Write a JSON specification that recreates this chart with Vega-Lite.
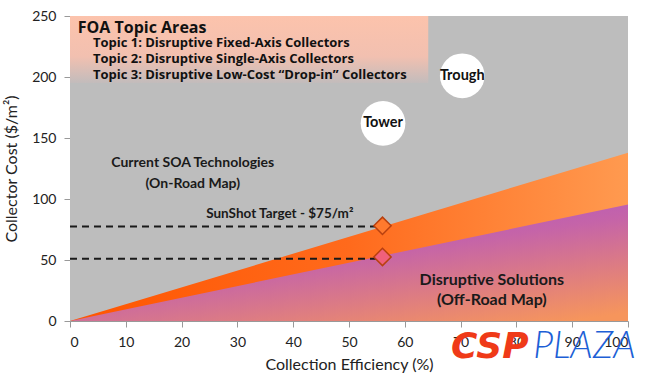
{
  "$schema": "https://vega.github.io/schema/vega-lite/v6.json",
  "width": 558,
  "height": 305,
  "autosize": {"type": "none"},
  "padding": {"left": 70, "top": 16, "right": 22, "bottom": 54},
  "background": "#ffffff",
  "config": {
    "view": {"stroke": null},
    "font": "Lato",
    "axis": {
      "grid": false,
      "labelFont": "Lato",
      "labelFontSize": 14,
      "labelColor": "#222222",
      "titleFont": "Lato",
      "titleFontSize": 16,
      "titleFontWeight": "normal",
      "titleColor": "#222222",
      "domainColor": "#999999",
      "tickColor": "#999999",
      "tickSize": 6
    }
  },
  "datasets": {
    "bg": [{"x0": 0, "x1": 100, "y0": 0, "y1": 250}],
    "box": [{"x0": 0, "x1": 64.2, "y0": 195, "y1": 250}],
    "upper": [{"eff": 0, "cost": 0}, {"eff": 100, "cost": 138}],
    "lower": [{"eff": 0, "cost": 0}, {"eff": 100, "cost": 95.5}],
    "dash": [{"x0": 0, "x1": 56, "y": 77.5}, {"x0": 0, "x1": 56, "y": 51}],
    "diam": [{"eff": 56, "cost": 78, "kind": "target"}, {"eff": 56, "cost": 52.5, "kind": "disruptive"}],
    "circ": [{"eff": 56.1, "cost": 162, "label": "Tower"}, {"eff": 70.3, "cost": 201, "label": "Trough"}],
    "legendTitle": [{"eff": 1.4, "cost": 240, "label": "FOA Topic Areas"}],
    "legendItems": [
      {"eff": 4.1, "cost": 228, "label": "Topic 1: Disruptive  Fixed-Axis Collectors"},
      {"eff": 4.1, "cost": 214.5, "label": "Topic 2: Disruptive  Single-Axis Collectors"},
      {"eff": 4.1, "cost": 201.5, "label": "Topic 3: Disruptive  Low-Cost \u201cDrop-in\u201d Collectors"}
    ],
    "notes": [
      {"eff": 22, "cost": 129.5, "label": "Current SOA Technologies", "size": 14},
      {"eff": 22, "cost": 112, "label": "(On-Road Map)", "size": 14},
      {"eff": 37.6, "cost": 87.5, "label": "SunShot Target - $75/m\u00b2", "size": 13.5},
      {"eff": 75.6, "cost": 34, "label": "Disruptive Solutions", "size": 16},
      {"eff": 75.6, "cost": 17, "label": "(Off-Road Map)", "size": 16}
    ],
    "wm1": [{"eff": 68.3, "cost": -21, "label": "CSP"}],
    "wm2": [{"eff": 83.0, "cost": -21, "label": "PLAZA"}]
  },
  "layer": [
    {
      "data": {"name": "bg"},
      "mark": {"type": "rect", "fill": "#bdbdbd"},
      "encoding": {
        "x": {"field": "x0", "type": "quantitative", "scale": {"domain": [0, 100], "nice": false}, "axis": {"title": "Collection Efficiency (%)", "values": [0,10,20,30,40,50,60,70,80,90,100], "labelPadding": 8, "titlePadding": 7}},
        "x2": {"field": "x1"},
        "y": {"field": "y0", "type": "quantitative", "scale": {"domain": [0, 250], "nice": false}, "axis": {"title": "Collector Cost ($/m\u00b2)", "values": [0,50,100,150,200,250], "labelPadding": 8, "titlePadding": 12}},
        "y2": {"field": "y1"}
      }
    },
    {
      "data": {"name": "box"},
      "mark": {"type": "rect", "fill": {"gradient": "linear", "x1": 0, "y1": 0, "x2": 0, "y2": 1, "stops": [{"offset": 0, "color": "#fcc3ac"}, {"offset": 0.6, "color": "#f2c0b0"}, {"offset": 1, "color": "#c2bcbc"}]}},
      "encoding": {
        "x": {"field": "x0", "type": "quantitative"},
        "x2": {"field": "x1"},
        "y": {"field": "y0", "type": "quantitative"},
        "y2": {"field": "y1"}
      }
    },
    {
      "data": {"name": "upper"},
      "mark": {"type": "area", "fill": {"gradient": "linear", "x1": 0, "y1": 0, "x2": 1, "y2": 0, "stops": [{"offset": 0, "color": "#ff5500"}, {"offset": 0.5, "color": "#ff6a1c"}, {"offset": 1, "color": "#ff9a50"}]}},
      "encoding": {
        "x": {"field": "eff", "type": "quantitative"},
        "y": {"field": "cost", "type": "quantitative"}
      }
    },
    {
      "data": {"name": "lower"},
      "mark": {"type": "area", "fill": {"gradient": "linear", "x1": 0.2, "y1": 0, "x2": 0.9, "y2": 1, "stops": [{"offset": 0, "color": "#a650d0"}, {"offset": 0.45, "color": "#c564a8"}, {"offset": 1, "color": "#f6955c"}]}},
      "encoding": {
        "x": {"field": "eff", "type": "quantitative"},
        "y": {"field": "cost", "type": "quantitative"}
      }
    },
    {
      "data": {"name": "dash"},
      "mark": {"type": "rule", "color": "#1a1a1a", "strokeWidth": 2, "strokeDash": [7, 5]},
      "encoding": {
        "x": {"field": "x0", "type": "quantitative"},
        "x2": {"field": "x1"},
        "y": {"field": "y", "type": "quantitative"}
      }
    },
    {
      "data": {"name": "diam"},
      "mark": {"type": "point", "shape": "diamond", "filled": true, "size": 300, "opacity": 1, "stroke": "#b8400f", "strokeWidth": 1.5},
      "encoding": {
        "x": {"field": "eff", "type": "quantitative"},
        "y": {"field": "cost", "type": "quantitative"},
        "color": {"field": "kind", "type": "nominal", "scale": {"domain": ["target", "disruptive"], "range": ["#ff7a2e", "#f0607a"]}, "legend": null}
      }
    },
    {
      "data": {"name": "circ"},
      "mark": {"type": "circle", "size": 2000, "color": "#ffffff", "opacity": 1},
      "encoding": {
        "x": {"field": "eff", "type": "quantitative"},
        "y": {"field": "cost", "type": "quantitative"}
      }
    },
    {
      "data": {"name": "circ"},
      "mark": {"type": "text", "fontSize": 14.5, "fontWeight": "bold", "color": "#111111"},
      "encoding": {
        "x": {"field": "eff", "type": "quantitative"},
        "y": {"field": "cost", "type": "quantitative"},
        "text": {"field": "label"}
      }
    },
    {
      "data": {"name": "legendTitle"},
      "mark": {"type": "text", "align": "left", "font": "Open Sans", "fontSize": 16, "fontWeight": "bold", "color": "#111111"},
      "encoding": {
        "x": {"field": "eff", "type": "quantitative"},
        "y": {"field": "cost", "type": "quantitative"},
        "text": {"field": "label"}
      }
    },
    {
      "data": {"name": "legendItems"},
      "mark": {"type": "text", "align": "left", "font": "Open Sans", "fontSize": 13, "fontWeight": "bold", "color": "#111111"},
      "encoding": {
        "x": {"field": "eff", "type": "quantitative"},
        "y": {"field": "cost", "type": "quantitative"},
        "text": {"field": "label"}
      }
    },
    {
      "data": {"name": "notes"},
      "mark": {"type": "text", "fontWeight": "bold", "color": "#1a1a1a"},
      "encoding": {
        "x": {"field": "eff", "type": "quantitative"},
        "y": {"field": "cost", "type": "quantitative"},
        "text": {"field": "label"},
        "size": {"field": "size", "type": "quantitative", "scale": null}
      }
    },
    {
      "data": {"name": "wm1"},
      "mark": {"type": "text", "align": "left", "font": "DejaVu Sans", "fontSize": 36, "fontWeight": "bold", "fontStyle": "italic", "color": "#ef3a18"},
      "encoding": {
        "x": {"field": "eff", "type": "quantitative"},
        "y": {"field": "cost", "type": "quantitative"},
        "text": {"field": "label"}
      }
    },
    {
      "data": {"name": "wm2"},
      "mark": {"type": "text", "align": "left", "fontSize": 37, "fontWeight": 300, "fontStyle": "italic", "color": "#1d5fd6"},
      "encoding": {
        "x": {"field": "eff", "type": "quantitative"},
        "y": {"field": "cost", "type": "quantitative"},
        "text": {"field": "label"}
      }
    }
  ]
}
